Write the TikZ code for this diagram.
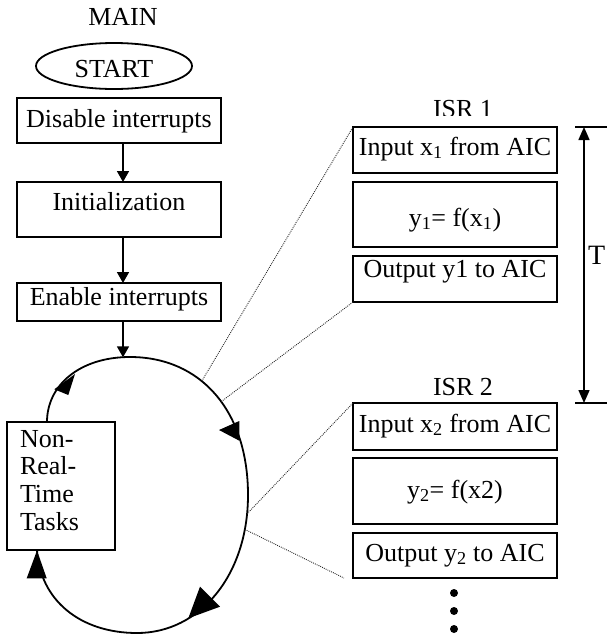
\documentclass[tikz,border=0pt]{standalone}
\usepackage{fontspec}
\setmainfont{Liberation Serif}
\usetikzlibrary{arrows.meta,shapes.geometric,calc}

\tikzset{
  txt/.style={font=\fontsize{26}{27.7}\selectfont},
  box/.style 2 args={draw, txt, line width=1.8pt, outer sep=0pt,
    minimum width=204pt, inner xsep=0pt, inner ysep=0pt,
    text height=#1pt, text depth=#2pt, anchor=north},
  flow/.style={line width=1.6pt, -{Triangle[length=11pt,width=12pt]}},
  cycleline/.style={line width=1.8pt},
  guide/.style={line width=0.9pt, black!85, dash pattern=on 0.9pt off 1.1pt},
  headfill/.style={fill=black},
  dotmark/.style={circle, fill=black, inner sep=0pt, minimum size=8pt},
}

\begin{document}
\begin{tikzpicture}[x=1pt,y=-1pt]
\useasboundingbox (0,0) rectangle (606,638);

% main program flow
\node[txt, anchor=base] (main) at (123,25) {MAIN};
\node[txt, ellipse, draw, line width=1.8pt, minimum width=156pt,
      minimum height=46pt, inner sep=0pt, text height=22pt, text depth=0pt]
      (start) at (114,66) {START};
\node[box={29}{16}] (dis) at (119,98) {Disable interrupts};
\node[box={28}{27}] (ini) at (119,182) {Initialization};
\node[box={22}{16}] (ena) at (119,283) {Enable interrupts};

\node[draw, txt, line width=1.8pt, outer sep=0pt, inner xsep=13pt,
      inner ysep=0pt, text width=82pt, align=left,
      text height=25pt, text depth=103pt, anchor=north west]
      (nrt) at (7,422) {Non-\\Real-\\Time\\Tasks};

\coordinate (looptop) at (123,357.3);

\draw[flow] ([xshift=4pt]dis.south) -- ([xshift=4pt]ini.north);
\draw[flow] ([xshift=4pt]ini.south) -- ([xshift=4pt]ena.north);
\draw[flow] ([xshift=4pt]ena.south) -- (looptop);

% background loop with interrupt points
\draw[cycleline] ($(nrt.north west)+(40,0)$)
  .. controls (47,385) and (80,357) .. (130,357)
  .. controls (200,357) and (248,410) .. (248,495)
     coordinate[pos=0.4] (p1) coordinate[pos=0.55] (p2)
  .. controls (248,575) and (200,633) .. (137,633)
     coordinate[pos=0.08] (p3) coordinate[pos=0.15] (p4)
  .. controls (80,633) and (40,600) .. ($(nrt.south west)+(30,0)$);

\fill[headfill] (54.3,389.3) -- (75,374) -- (68.3,395) -- cycle;
\fill[headfill] (219,430) -- (239.3,421) -- (239.3,440.7) -- cycle;
\fill[headfill] (200,586.7) -- (220,606.7) -- (188.3,618.3) -- cycle;
\fill[headfill] (26.7,578.3) -- (37,550.5) -- (46.7,578.3) -- cycle;

% interrupt service routines
\begin{scope}
  \clip (400,90) rectangle (530,115.5);
  \node[txt, anchor=base] (isr1) at (463,117) {ISR 1};
\end{scope}
\node[box={28}{18}] (in1) at (455,127) {Input x\textsubscript{1} from AIC};
\node[box={44}{21}] (f1) at (455,182) {y\textsubscript{1}= f(x\textsubscript{1})};
\node[box={21}{25}] (out1) at (455,256) {Output y1 to AIC};

\node[txt, anchor=base] (isr2) at (463,395) {ISR 2};
\node[box={29}{18}] (in2) at (455,403) {Input x\textsubscript{2} from AIC};
\node[box={40}{26}] (f2) at (455,458) {y\textsubscript{2}= f(x2)};
\node[box={28}{17}] (out2) at (455,533) {Output y\textsubscript{2} to AIC};

\node[dotmark] (dot1) at (454,593) {};
\node[dotmark] (dot2) at (454,611) {};
\node[dotmark] (dot3) at (454,629) {};

% zoom lines from the loop to each routine
\draw[guide] (p1) -- (in1.north west);
\draw[guide] (p2) -- (out1.south west);
\draw[guide] (p3) -- (in2.north west);
\draw[guide] (p4) -- ([xshift=-9pt]out2.south west);

% sampling period
\coordinate (ttop) at (584,0 |- in1.north);
\coordinate (tbot) at (584,0 |- in2.north);
\draw[line width=1.8pt] ([xshift=-9pt]ttop) -- ([xshift=24pt]ttop);
\draw[line width=1.8pt] ([xshift=-9pt]tbot) -- ([xshift=24pt]tbot);
\draw[line width=1.5pt, {Triangle[length=13pt,width=11pt]}-{Triangle[length=13pt,width=11pt]}]
  (ttop) -- (tbot);
\node[anchor=base east, inner sep=0pt, font=\fontsize{28}{30}\selectfont] (tlabel) at (605.5,264) {T};
\end{tikzpicture}
\end{document}
